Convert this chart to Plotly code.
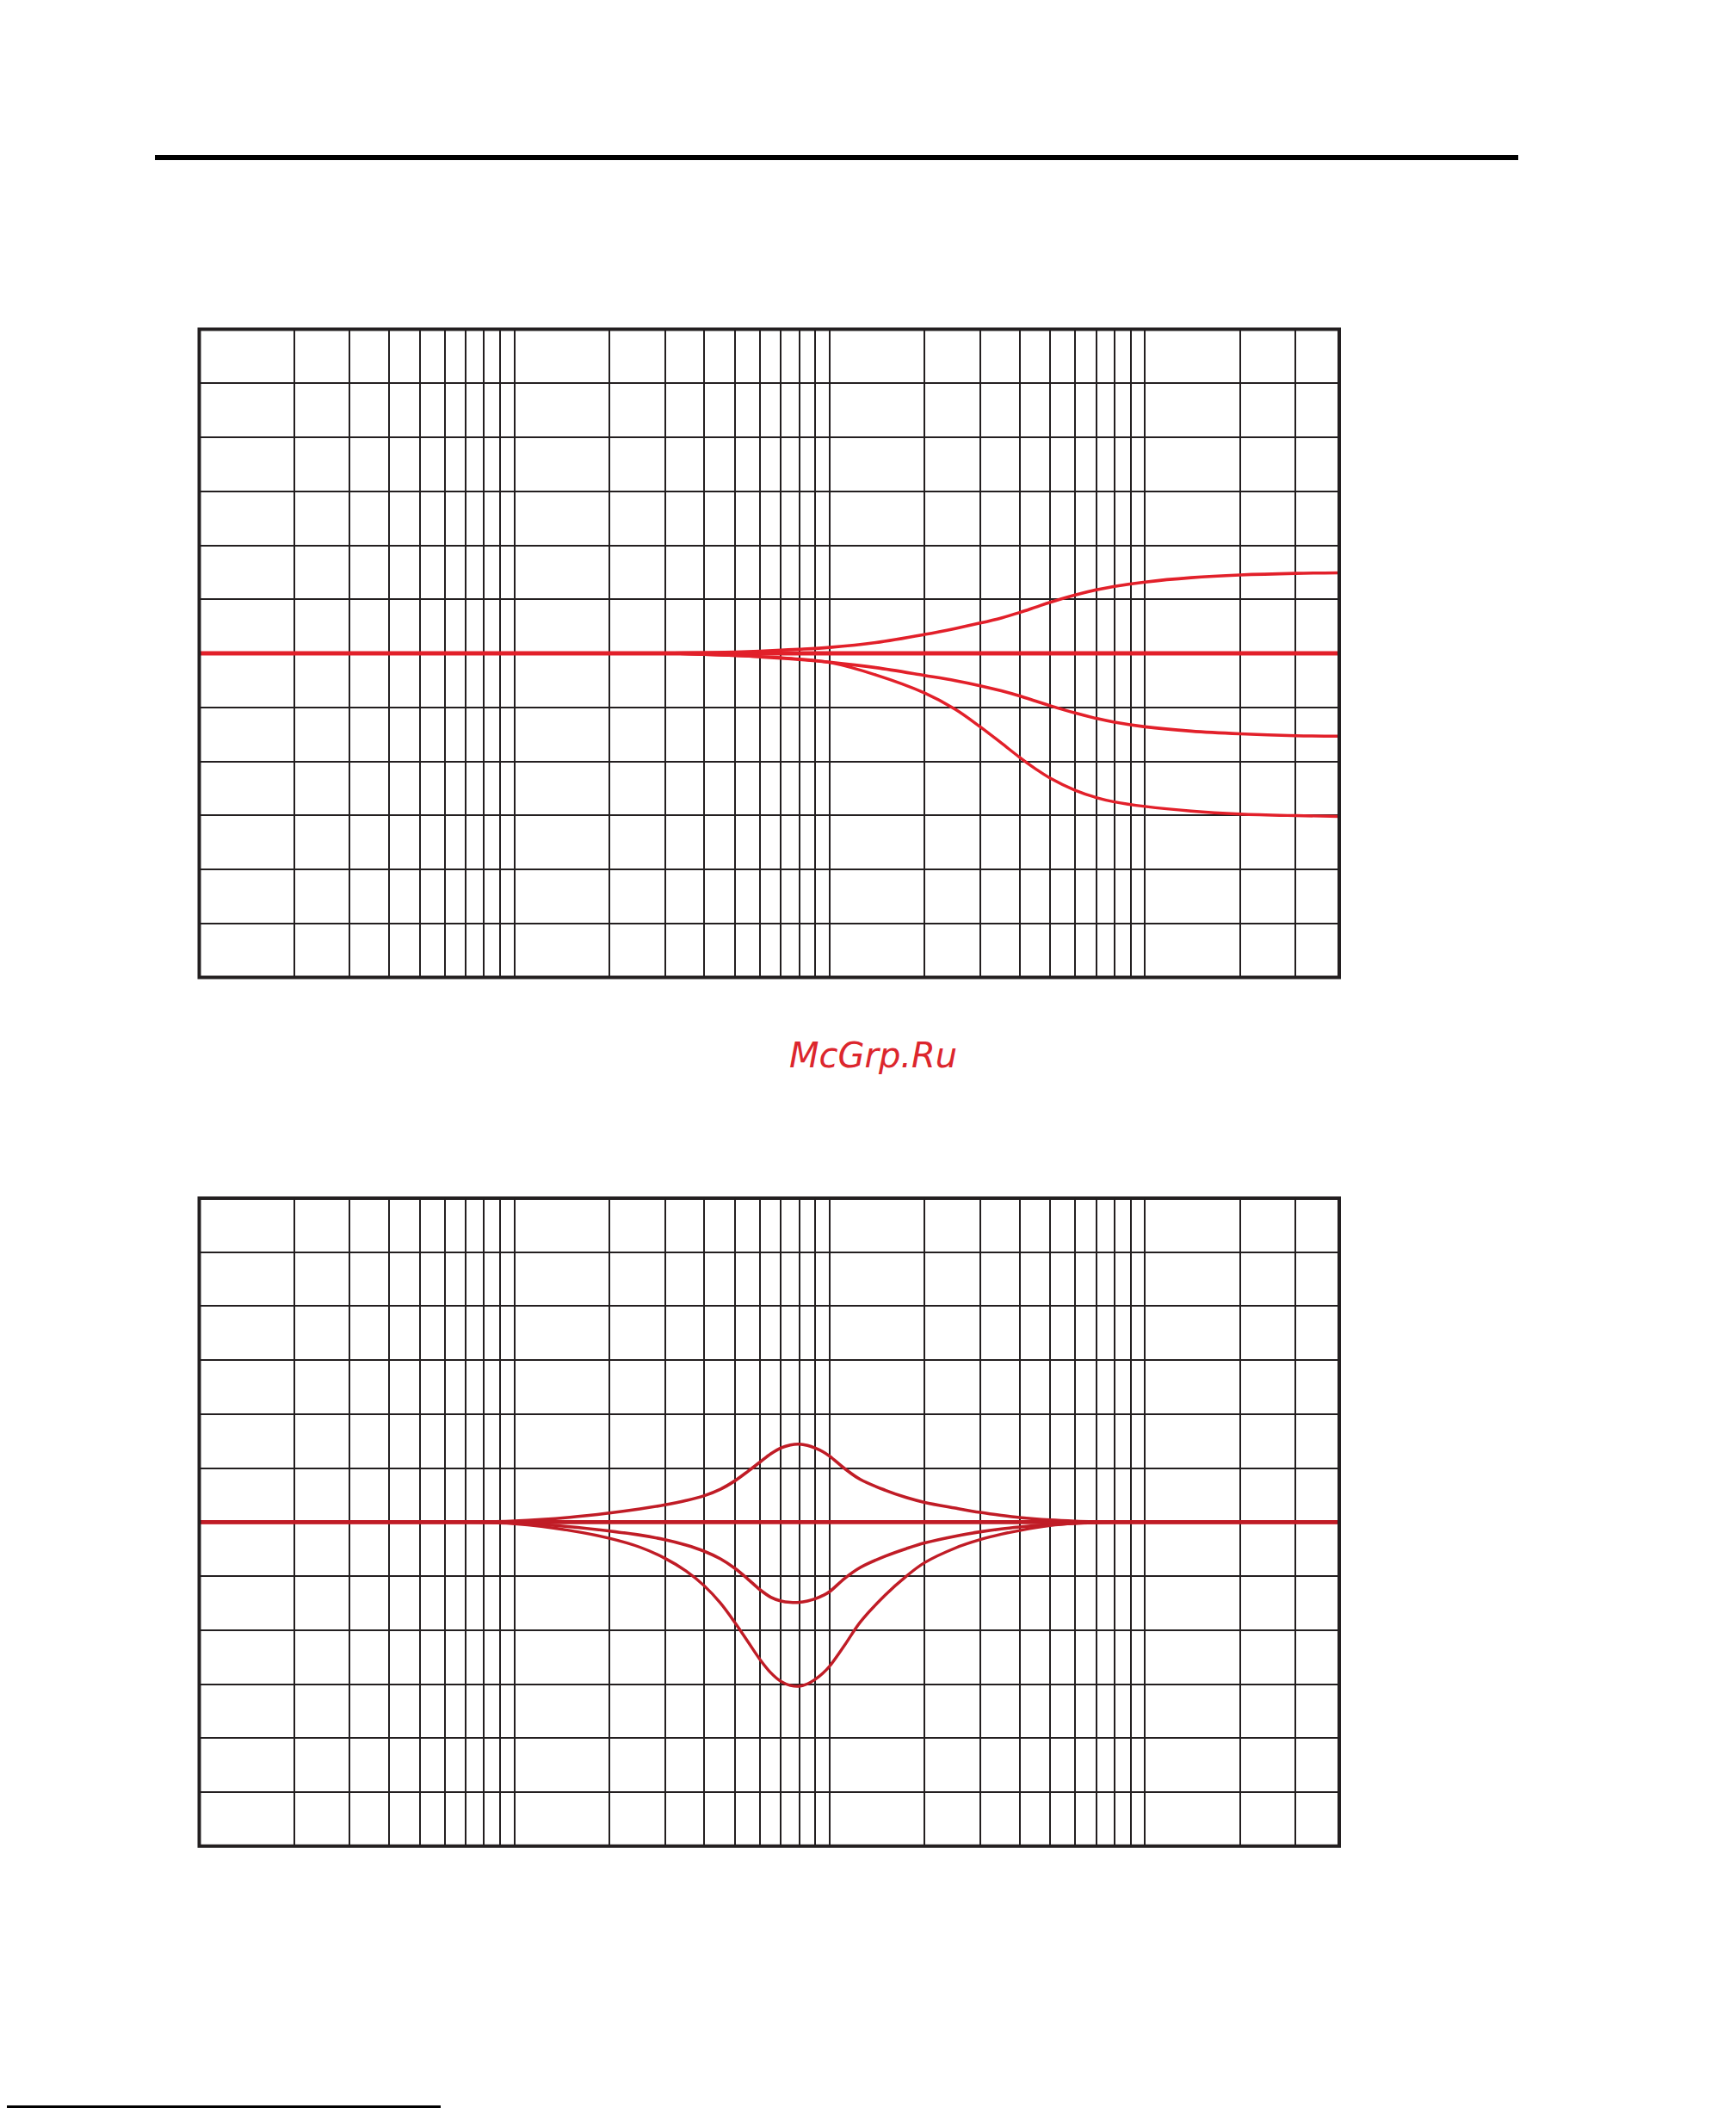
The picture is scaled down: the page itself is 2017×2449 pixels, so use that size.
import math
import plotly.graph_objects as go

# ---------------- data ----------------
# vertical grid (frequency, Hz) and horizontal grid (level, dB)
grid_freqs = [20, 30, 40, 50, 60, 70, 80, 90,
              100, 200, 300, 400, 500, 600, 700, 800, 900,
              1000, 2000, 3000, 4000, 5000, 6000, 7000, 8000, 9000,
              10000, 20000, 30000]
grid_db = [-10, -8, -6, -4, -2, 0, 2, 4, 6, 8, 10]
freq_min = 10
freq_max = 41300
db_min, db_max = -12, 12

# upper chart: treble shelving curves
flat_freq = [10, 41300]
flat_db = [0, 0]
shelf_freq = [10, 300, 400, 500, 600, 700, 800, 1000, 1400, 2000, 2500, 3000, 3500,
              4000, 4500, 5000, 6000, 7000, 8000, 10000, 14000, 20000, 30000, 41300]
shelf_plus3 = [0, 0, 0.02, 0.05, 0.08, 0.12, 0.15, 0.22, 0.40, 0.70, 0.92, 1.12, 1.31,
               1.51, 1.71, 1.89, 2.16, 2.35, 2.48, 2.64, 2.80, 2.90, 2.96, 2.98]
shelf_minus3 = [0, 0, -0.04, -0.08, -0.13, -0.18, -0.23, -0.33, -0.53, -0.82, -1.01, -1.20, -1.39,
                -1.58, -1.77, -1.94, -2.21, -2.41, -2.55, -2.72, -2.88, -2.98, -3.05, -3.07]
shelf_minus6 = [0, 0, -0.04, -0.08, -0.12, -0.16, -0.21, -0.34, -0.80, -1.47, -2.07, -2.72, -3.32,
                -3.85, -4.28, -4.62, -5.07, -5.34, -5.50, -5.67, -5.84, -5.95, -6.01, -6.04]

# lower chart: mid peaking curves
peak_freq = [10, 70, 100, 150, 200, 250, 300, 350, 400, 450, 500, 550, 600, 650, 700,
             750, 800, 850, 900, 950, 1000, 1116, 1250, 1500, 1750, 2000, 2500, 3000,
             3500, 4000, 5000, 6000, 7000, 8000, 41300]
peak_plus3 = [0, 0, 0.04, 0.18, 0.34, 0.49, 0.64, 0.80, 0.98, 1.22, 1.53, 1.88, 2.22, 2.53, 2.75,
              2.86, 2.89, 2.84, 2.74, 2.61, 2.44, 1.98, 1.58, 1.18, 0.91, 0.73, 0.52, 0.36,
              0.25, 0.17, 0.08, 0.035, 0.012, 0, 0]
peak_minus3 = [0, 0, -0.03, -0.17, -0.33, -0.48, -0.65, -0.85, -1.08, -1.36, -1.71, -2.11, -2.50, -2.78, -2.92,
               -2.97, -2.97, -2.92, -2.84, -2.72, -2.57, -2.08, -1.68, -1.26, -0.98, -0.77, -0.52, -0.36,
               -0.25, -0.18, -0.09, -0.04, -0.015, 0, 0]
peak_minus6 = [0, 0, -0.06, -0.31, -0.60, -0.93, -1.34, -1.81, -2.36, -3.00, -3.72, -4.43, -5.08, -5.58, -5.90,
               -6.05, -6.08, -5.99, -5.82, -5.60, -5.33, -4.55, -3.70, -2.70, -2.00, -1.50, -0.96, -0.65,
               -0.45, -0.31, -0.13, -0.05, -0.015, 0, 0]

watermark = "McGrp.Ru"

# ---------------- styling ----------------
PAGE_MARGIN = 8            # default <body> margin of the html page
W, H = 2017 - PAGE_MARGIN, 2449 - PAGE_MARGIN
GRID = "#231f20"
RED_TOP = "#e2202a"
RED_BOT = "#c01c26"


def px_x(p):
    return (p - PAGE_MARGIN) / W


def px_y(p):
    return 1 - (p - PAGE_MARGIN) / H


fig = go.Figure()

top_curves = [(flat_freq, flat_db, 4.8), (shelf_freq, shelf_plus3, 3.6),
              (shelf_freq, shelf_minus3, 3.6), (shelf_freq, shelf_minus6, 3.4)]
for fx, fy, w in top_curves:
    fig.add_trace(go.Scatter(x=fx, y=fy, mode="lines", xaxis="x", yaxis="y",
                             line=dict(color=RED_TOP, width=w, shape="spline", smoothing=1.0),
                             hoverinfo="skip", showlegend=False))

bot_curves = [(flat_freq, flat_db, 4.8), (peak_freq, peak_plus3, 3.6),
              (peak_freq, peak_minus3, 3.6), (peak_freq, peak_minus6, 3.4)]
for fx, fy, w in bot_curves:
    fig.add_trace(go.Scatter(x=fx, y=fy, mode="lines", xaxis="x2", yaxis="y2",
                             line=dict(color=RED_BOT, width=w, shape="spline", smoothing=1.0),
                             hoverinfo="skip", showlegend=False))

xdom = [px_x(231.5), px_x(1556)]
xr = [math.log10(freq_min), math.log10(freq_max)]

xcommon = dict(type="log", range=xr, domain=xdom, tickmode="array", tickvals=grid_freqs,
               showticklabels=False, ticks="", showgrid=True, gridcolor=GRID, gridwidth=2,
               zeroline=False, showline=False, fixedrange=True)
ycommon = dict(range=[db_min, db_max], tickmode="array", tickvals=grid_db,
               showticklabels=False, ticks="", showgrid=True, gridcolor=GRID, gridwidth=2,
               zeroline=False, showline=False, fixedrange=True)

fig.update_layout(
    width=W, height=H,
    margin=dict(l=0, r=0, t=0, b=0),
    paper_bgcolor="white", plot_bgcolor="white",
    xaxis=dict(**xcommon, anchor="y"),
    yaxis=dict(**ycommon, domain=[px_y(1135.5), px_y(382.5)], anchor="x"),
    xaxis2=dict(**xcommon, anchor="y2"),
    yaxis2=dict(**ycommon, domain=[px_y(2144.7), px_y(1392)], anchor="x2"),
    showlegend=False,
)

shapes = []
for xa, ya in (("x", "y"), ("x2", "y2")):
    shapes.append(dict(type="rect", xref=f"{xa} domain", yref=f"{ya} domain",
                       x0=0, x1=1, y0=0, y1=1, layer="above",
                       line=dict(color=GRID, width=4)))
# header rule
shapes.append(dict(type="line", xref="paper", yref="paper",
                   x0=px_x(180), x1=px_x(1764), y0=px_y(183), y1=px_y(183),
                   line=dict(color="#000000", width=6)))
# footer rule (partially cut by the page edge)
shapes.append(dict(type="line", xref="paper", yref="paper",
                   x0=px_x(0), x1=px_x(512), y0=px_y(2447.5), y1=px_y(2447.5),
                   line=dict(color="#000000", width=3)))
fig.update_layout(shapes=shapes)

fig.add_annotation(text=f"<i>{watermark}</i>", xref="paper", yref="paper",
                   x=px_x(1014), y=px_y(1226), xanchor="center", yanchor="middle",
                   showarrow=False,
                   font=dict(family="DejaVu Sans", size=40, color="#dc262d"))

fig.write_html("out.html")
